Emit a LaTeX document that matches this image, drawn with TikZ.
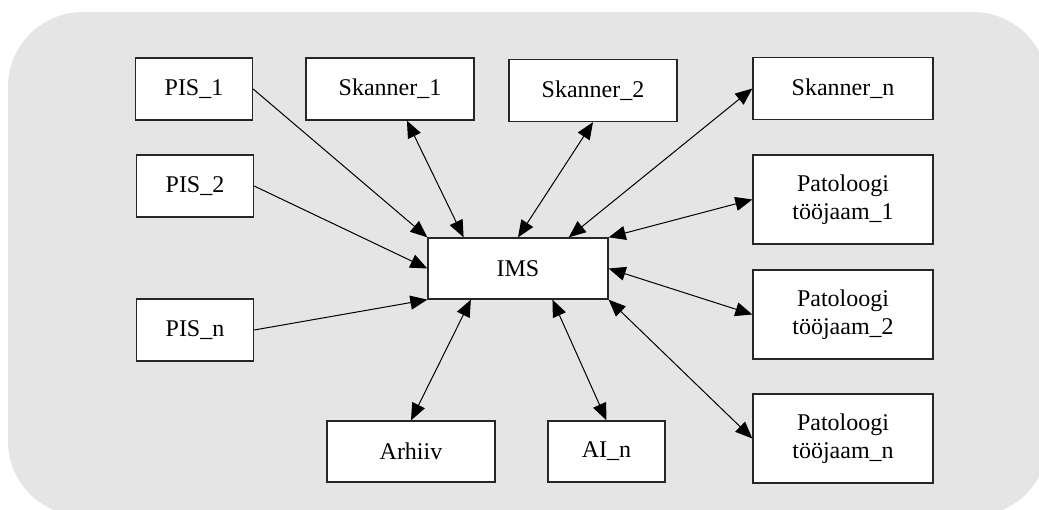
\documentclass[tikz,border=0pt]{standalone}
\usepackage{fontspec}
\setmainfont{Liberation Serif}
\usetikzlibrary{arrows.meta,calc}

\begin{document}
\begin{tikzpicture}[x=0.5pt, y=-0.5pt,
    box/.style={draw=black!85, line width=0.65pt, fill=white, inner sep=0pt,
        align=center, font=\fontsize{12}{14}\selectfont},
    small/.style={box, minimum width=58.5pt, minimum height=31pt},
    wide/.style={box, minimum width=84pt, minimum height=31pt},
    big/.style={box, minimum width=90pt, minimum height=30.5pt},
    tall/.style={box, minimum width=90pt, minimum height=44.5pt},
    link/.style={line width=0.5pt, -{Triangle[length=8.5pt,width=7pt]}},
    both/.style={line width=0.5pt, {Triangle[length=8.5pt,width=7pt]}-{Triangle[length=8.5pt,width=7pt]}}]
    \useasboundingbox (0,0) rectangle (1039,509);
    \fill[black!10, rounded corners=37.5pt] (8,12) rectangle (1048,516);

    % left column
    \node[small] (pis1) at (194,89) {PIS\_1};
    \node[small] (pis2) at (195,186) {PIS\_2};
    \node[small] (pisn) at (195,330) {PIS\_n};

    % top row
    \node[wide] (sk1) at (390,89) {Skanner\_1};
    \node[wide] (sk2) at (593,90.5) {Skanner\_2};
    \node[big, minimum height=31pt] (skn) at (843,88.5) {Skanner\_n};

    % right column
    \node[tall] (pat1) at (843,199.5) {Patoloogi\\tööjaam\_1};
    \node[tall] (pat2) at (843,314.5) {Patoloogi\\tööjaam\_2};
    \node[tall] (patn) at (843,438.5) {Patoloogi\\tööjaam\_n};

    % centre and bottom
    \node[big] (ims) at (518,268.5) {IMS};
    \node[wide, minimum height=30.5pt] (arh) at (411,451.5) {Arhiiv};
    \node[small, minimum height=30.5pt] (ai) at (606.5,451.5) {AI\_n};

    \draw[link] (pis1.east) -- (ims.north west);
    \draw[link] (pis2.east) -- (ims.west);
    \draw[link] (pisn.east) -- (ims.south west);

    \draw[both] ($(ims.north west)!0.2!(ims.north east)$) -- ($(sk1.south west)!0.6!(sk1.south east)$);
    \draw[both] (ims.north) -- (sk2.south);
    \draw[both] ($(ims.north west)!0.78!(ims.north east)$) -- (skn.west);

    \draw[both] (ims.north east) -- (pat1.west);
    \draw[both] (ims.east) -- (pat2.west);
    \draw[both] (ims.south east) -- (patn.west);

    \draw[both] ($(ims.south west)!0.24!(ims.south east)$) -- (arh.north);
    \draw[both] ($(ims.south west)!0.69!(ims.south east)$) -- (ai.north);

\end{tikzpicture}
\end{document}
